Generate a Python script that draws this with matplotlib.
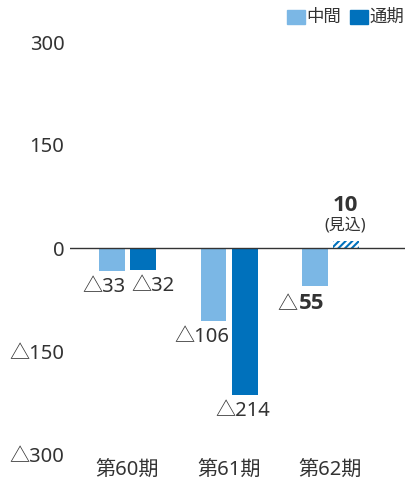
import numpy as np
import matplotlib.pyplot as plt

plt.rcParams['font.family'] = ['Noto Sans', 'Noto Sans CJK JP', 'DejaVu Sans']

periods = ["第60期", "第61期", "第62期"]
interim = [-33, -106, -55]
full_year = [-32, -214, 10]
interim_labels = ["△33", "△106", "△55"]
full_labels = ["△32", "△214", "10"]
yticks = [300, 150, 0, -150, -300]
ytick_labels = ["300", "150", "0", "△150", "△300"]

c_light = "#7bb7e5"
c_dark = "#0071bc"
c_text = "#333333"
fs = 14.5
bold_font = ['Open Sans', 'Noto Sans CJK JP']

fig = plt.figure(figsize=(4.05, 4.86), dpi=100)
ax = fig.add_axes([70/405, (486-454)/486, 335/405, 412/486])

x = np.arange(len(periods))
w = 0.256
off = 0.153

ax.bar(x - off, interim, w, color=c_light)
ax.bar(x[:2] + off, full_year[:2], w, color=c_dark)
plt.rcParams['hatch.linewidth'] = 1.5
ax.bar(x[2] + off, full_year[2], w, facecolor="white", edgecolor=c_dark,
       hatch="/////", linewidth=0)

ax.axhline(0, color="#333333", lw=1, zorder=3)

ax.set_ylim(-300, 300)
ax.set_xlim(-0.567, 2.734)
ax.set_yticks(yticks)
ax.set_yticklabels(ytick_labels)
ax.set_xticks(x)
ax.set_xticklabels(periods)
ax.tick_params(length=0, labelsize=fs, colors=c_text)
ax.tick_params(axis='y', pad=4)
ax.tick_params(axis='x', pad=5)
for s in ax.spines.values():
    s.set_visible(False)

# value labels
ax.text(x[0] - 0.233, interim[0] - 9, interim_labels[0], ha="center", va="top", fontsize=fs, color=c_text)
ax.text(x[0] + 0.253, full_year[0] - 9, full_labels[0], ha="center", va="top", fontsize=fs, color=c_text)
ax.text(x[1] - 0.266, interim[1] - 9, interim_labels[1], ha="center", va="top", fontsize=fs, color=c_text)
ax.text(x[1] + 0.133, full_year[1] - 9, full_labels[1], ha="center", va="top", fontsize=fs, color=c_text)
ax.text(x[2] - 0.52, interim[2] - 14, "△", ha="left", va="top", fontsize=fs, color=c_text)
ax.text(x[2] - 0.31, interim[2] - 10, interim_labels[2][1:], ha="left", va="top", fontsize=16,
        fontweight="bold", family=bold_font, color=c_text)
ax.text(x[2] + 0.143, 62, full_labels[2], ha="center", va="center", fontsize=16, fontweight="bold",
        family=bold_font, color=c_text)
ax.text(x[2] + 0.143, 33, "(見込)", ha="center", va="center", fontsize=11.5, color=c_text)

# legend
fig.patches.append(plt.Rectangle((287/405, 1 - 24/486), 18/405, 14/486, transform=fig.transFigure, color=c_light))
fig.text(306/405, 1 - 17/486, "中間", ha="left", va="center", fontsize=12.5, color=c_text)
fig.patches.append(plt.Rectangle((350/405, 1 - 24/486), 18/405, 14/486, transform=fig.transFigure, color=c_dark))
fig.text(369/405, 1 - 17/486, "通期", ha="left", va="center", fontsize=12.5, color=c_text)

fig.savefig("out.png", dpi=100)
